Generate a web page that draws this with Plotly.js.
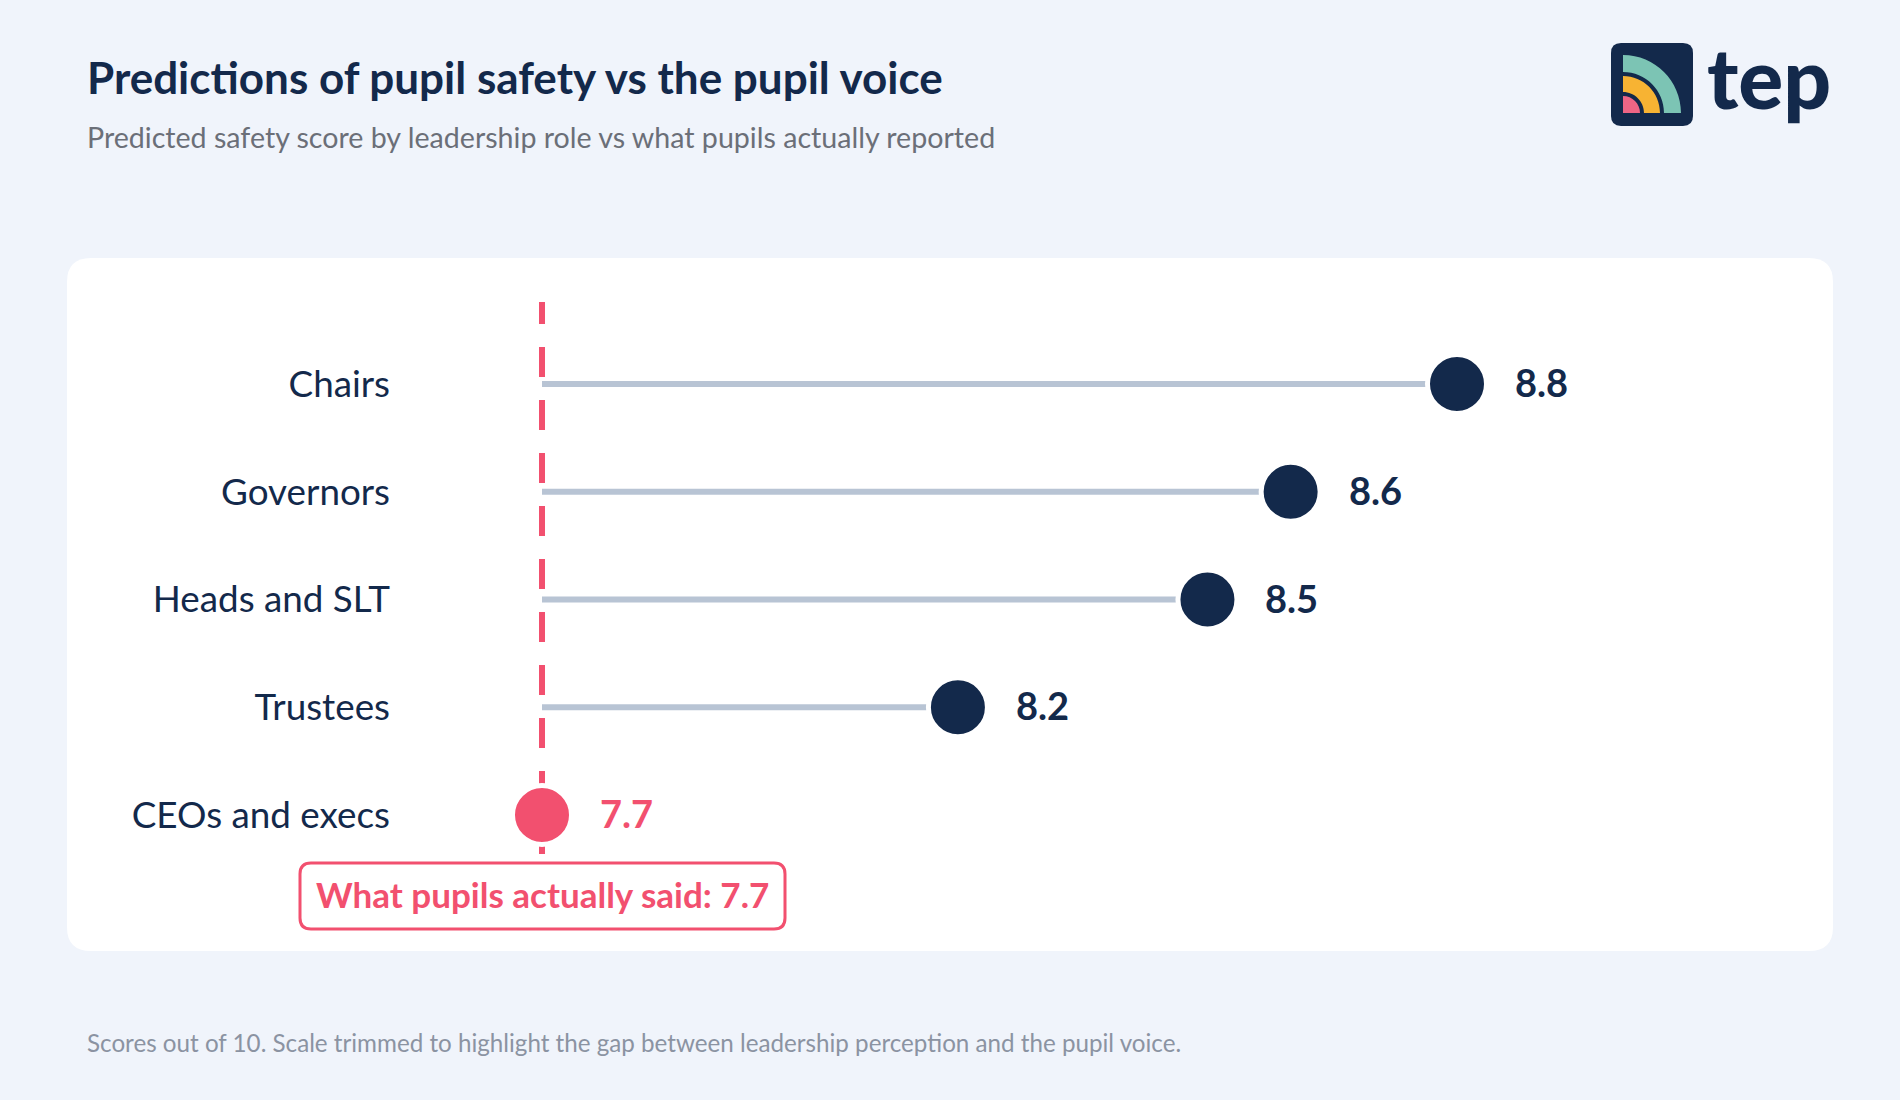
<!DOCTYPE html>
<html>
<head>
<meta charset="utf-8">
<script src="https://cdn.plot.ly/plotly-3.0.1.min.js"></script>
<style>
  html, body { margin: 0; padding: 0; background: #f0f4fb; overflow: hidden; }
  #chart { width: 1900px; height: 1100px; }
</style>
</head>
<body>
<div id="chart"></div>
<script>
// ---- data ----
const roles = ['Chairs', 'Governors', 'Heads and SLT', 'Trustees', 'CEOs and execs'];
const predicted = [8.8, 8.6, 8.5, 8.2, 7.7];
const pupilScore = 7.7;
const pupilLabel = 'What pupils actually said: ' + pupilScore.toFixed(1);

const titleText = 'Predictions of pupil safety vs the pupil voice';
const subtitleText = 'Predicted safety score by leadership role vs what pupils actually reported';
const footnoteText = 'Scores out of 10. Scale trimmed to highlight the gap between leadership perception and the pupil voice.';

// ---- style ----
const NAVY = '#13294b';
const PINK = '#f2506f';
const STEM = '#b8c4d4';
const BG = '#f0f4fb';
const FONT = 'Lato, "Open Sans", sans-serif';
const W = 1900, H = 1100;

// pixel -> paper helpers (margins are zero)
const px = x => x / W;
const py = y => 1 - y / H;
const P = (x, y) => px(x).toFixed(6) + ',' + py(y).toFixed(6);

function roundRect(x0, y0, x1, y1, r) {
  return 'M' + P(x0 + r, y0) + ' L' + P(x1 - r, y0) +
    ' Q' + P(x1, y0) + ' ' + P(x1, y0 + r) +
    ' L' + P(x1, y1 - r) +
    ' Q' + P(x1, y1) + ' ' + P(x1 - r, y1) +
    ' L' + P(x0 + r, y1) +
    ' Q' + P(x0, y1) + ' ' + P(x0, y1 - r) +
    ' L' + P(x0, y0 + r) +
    ' Q' + P(x0, y0) + ' ' + P(x0 + r, y0) + ' Z';
}
const K = 0.5523;
function quarterDisc(cx, cy, r) {
  return 'M' + P(cx, cy) + ' L' + P(cx, cy - r) +
    ' C' + P(cx + K * r, cy - r) + ' ' + P(cx + r, cy - K * r) + ' ' + P(cx + r, cy) + ' Z';
}
function quarterBand(cx, cy, rIn, rOut) {
  return 'M' + P(cx, cy - rOut) +
    ' C' + P(cx + K * rOut, cy - rOut) + ' ' + P(cx + rOut, cy - K * rOut) + ' ' + P(cx + rOut, cy) +
    ' L' + P(cx + rIn, cy) +
    ' C' + P(cx + rIn, cy - K * rIn) + ' ' + P(cx + K * rIn, cy - rIn) + ' ' + P(cx, cy - rIn) + ' Z';
}

// ---- traces ----
const stemX = [], stemY = [];
roles.forEach((r, i) => { stemX.push(pupilScore, predicted[i], null); stemY.push(r, r, null); });

const stems = {
  type: 'scatter', mode: 'lines', x: stemX, y: stemY,
  line: { color: STEM, width: 6 }, hoverinfo: 'skip', showlegend: false
};
const dots = {
  type: 'scatter', mode: 'markers', x: predicted, y: roles,
  marker: {
    size: 59,
    color: predicted.map(v => v <= pupilScore ? PINK : NAVY),
    line: { color: '#ffffff', width: 5 }
  },
  hoverinfo: 'skip', showlegend: false
};

// ---- annotations ----
const annotations = [];
roles.forEach((r, i) => {
  annotations.push({
    xref: 'x', yref: 'y', x: predicted[i], y: r, text: predicted[i].toFixed(1),
    xanchor: 'left', yanchor: 'middle', xshift: 56, yshift: 2, showarrow: false,
    font: { family: FONT, size: 38, color: predicted[i] <= pupilScore ? PINK : NAVY, weight: 700 }
  });
});
annotations.push({
  xref: 'x', yref: 'paper', x: pupilScore, y: py(894), text: pupilLabel,
  xanchor: 'center', yanchor: 'middle', showarrow: false,
  font: { family: FONT, size: 35, color: PINK, weight: 700 }
});
annotations.push({
  xref: 'paper', yref: 'paper', x: px(85), y: py(77), text: titleText,
  xanchor: 'left', yanchor: 'middle', showarrow: false,
  font: { family: FONT, size: 44, color: NAVY, weight: 700 }
});
annotations.push({
  xref: 'paper', yref: 'paper', x: px(85), y: py(137), text: subtitleText,
  xanchor: 'left', yanchor: 'middle', showarrow: false,
  font: { family: FONT, size: 28.6, color: '#6b6f78' }
});
annotations.push({
  xref: 'paper', yref: 'paper', x: px(85), y: py(1042), text: footnoteText,
  xanchor: 'left', yanchor: 'middle', showarrow: false,
  font: { family: FONT, size: 24.2, color: '#8b93a2' }
});
annotations.push({
  xref: 'paper', yref: 'paper', x: px(1705), y: py(76), text: 'tep',
  xanchor: 'left', yanchor: 'middle', showarrow: false,
  font: { family: FONT, size: 84, color: NAVY, weight: 900 }
});

// ---- shapes ----
const shapes = [
  { type: 'path', xref: 'paper', yref: 'paper', layer: 'below',
    path: roundRect(67, 258, 1833, 951, 24), fillcolor: '#ffffff', line: { width: 0 } },
  { type: 'line', xref: 'x', yref: 'paper', layer: 'below',
    x0: pupilScore, x1: pupilScore, y0: py(854), y1: py(302),
    line: { color: PINK, width: 6, dash: '30px,23px' } },
  { type: 'path', xref: 'paper', yref: 'paper', layer: 'below',
    path: roundRect(300, 863, 785, 929, 11), fillcolor: '#ffffff', line: { color: PINK, width: 3 } },
  // logo
  { type: 'path', xref: 'paper', yref: 'paper', layer: 'above',
    path: roundRect(1611, 43, 1693, 126, 10), fillcolor: NAVY, line: { width: 0 } },
  { type: 'path', xref: 'paper', yref: 'paper', layer: 'above',
    path: quarterBand(1623, 113, 41, 58), fillcolor: '#7cc4b4', line: { width: 0 } },
  { type: 'path', xref: 'paper', yref: 'paper', layer: 'above',
    path: quarterBand(1623, 113, 21, 37), fillcolor: '#f7b333', line: { width: 0 } },
  { type: 'path', xref: 'paper', yref: 'paper', layer: 'above',
    path: quarterDisc(1623, 113, 17), fillcolor: '#ee6585', line: { width: 0 } }
];

const layout = {
  width: W, height: H,
  margin: { l: 0, r: 0, t: 0, b: 0, pad: 0 },
  paper_bgcolor: BG, plot_bgcolor: 'rgba(0,0,0,0)',
  showlegend: false, hovermode: false,
  xaxis: {
    domain: [400 / W, 1], range: [7.52929, 9.33257],
    visible: false, showgrid: false, zeroline: false, fixedrange: true
  },
  yaxis: {
    domain: [0.16114, 0.74886], type: 'category',
    categoryorder: 'array', categoryarray: roles, range: [5, -1],
    showgrid: false, zeroline: false, showline: false, ticks: '',
    ticklabelstandoff: 9,
    tickfont: { family: FONT, size: 36.8, color: NAVY }, fixedrange: true
  },
  shapes: shapes,
  annotations: annotations
};

Plotly.newPlot('chart', [stems, dots], layout, { displayModeBar: false, staticPlot: true });
</script>
</body>
</html>
